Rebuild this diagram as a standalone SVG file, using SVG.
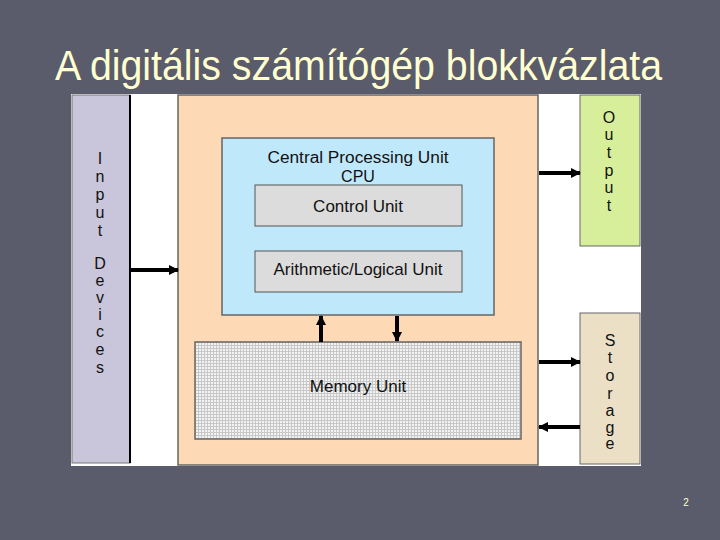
<svg xmlns="http://www.w3.org/2000/svg" width="720" height="540" viewBox="0 0 720 540">
<defs>
<pattern id="grid" width="3" height="3" patternUnits="userSpaceOnUse">
<rect width="3" height="3" fill="#f2f2f2"/>
<path d="M0 0.5H3M0.5 0V3" stroke="#c8c8c8" stroke-width="1"/>
</pattern>
<marker id="ah" markerWidth="10" markerHeight="10" refX="9" refY="5" orient="auto" markerUnits="userSpaceOnUse" viewBox="0 0 10 10">
<path d="M0 0L10 5L0 10Z" fill="#000"/>
</marker>
<style>
.t{font-family:"Liberation Sans",Arial,sans-serif;font-size:17px;fill:#111;text-anchor:middle}
.h{font-family:"Liberation Sans",Arial,sans-serif;font-size:16px;fill:#111;text-anchor:middle}
.v{font-family:"Liberation Sans",Arial,sans-serif;font-size:16px;fill:#111;text-anchor:middle}
.c{stroke:#000;stroke-width:4;fill:none;marker-end:url(#ah)}
.b{stroke:#666;stroke-width:1.5}
</style>
</defs>
<rect width="720" height="540" fill="#5a5b6b"/>
<text x="55" y="80" textLength="607" lengthAdjust="spacingAndGlyphs" style="font-family:'Liberation Sans',Arial,sans-serif;font-size:42px;fill:#ffffd0">A digitális számítógép blokkvázlata</text>
<rect x="71" y="94" width="570" height="372" fill="#fff"/>
<g id="input">
<rect x="72" y="95" width="58" height="368" fill="#c9c5da" stroke="#777" stroke-width="1"/>
<line x1="130" y1="95" x2="130" y2="463" stroke="#000" stroke-width="2"/>
<text class="v" x="100"><tspan x="100" y="164">I</tspan><tspan x="100" y="182">n</tspan><tspan x="100" y="200">p</tspan><tspan x="100" y="218">u</tspan><tspan x="100" y="236">t</tspan><tspan x="100" y="269">D</tspan><tspan x="100" y="286">e</tspan><tspan x="100" y="303">v</tspan><tspan x="100" y="320">i</tspan><tspan x="100" y="337">c</tspan><tspan x="100" y="355">e</tspan><tspan x="100" y="373">s</tspan></text>
</g>
<g id="computer">
<rect x="178" y="95" width="360" height="370" fill="#fdd9b5" class="b"/>
</g>
<g id="cpu">
<rect x="222" y="138" width="272" height="177" fill="#c0e8fb" class="b"/>
<text class="h" x="358" y="163" textLength="181" lengthAdjust="spacingAndGlyphs">Central Processing Unit</text>
<text class="h" x="358" y="182">CPU</text>
</g>
<g id="control">
<rect x="255" y="185" width="207" height="41" fill="#dcdcdc" stroke="#555" stroke-width="1"/>
<text class="t" x="358" y="212">Control Unit</text>
</g>
<g id="alu">
<rect x="255" y="251" width="207" height="41" fill="#dcdcdc" stroke="#555" stroke-width="1"/>
<text class="t" x="358" y="275">Arithmetic/Logical Unit</text>
</g>
<g id="memory">
<rect x="195" y="342" width="326" height="97" fill="url(#grid)" stroke="#666" stroke-width="1.5"/>
<text class="t" x="358" y="392">Memory Unit</text>
</g>
<g id="output">
<rect x="580" y="95" width="60" height="151" fill="#d7ee9a" stroke="#666" stroke-width="1"/>
<text class="v"><tspan x="609" y="123">O</tspan><tspan x="609" y="140">u</tspan><tspan x="609" y="158">t</tspan><tspan x="609" y="176">p</tspan><tspan x="609" y="193">u</tspan><tspan x="609" y="211">t</tspan></text>
</g>
<g id="storage">
<rect x="580" y="313" width="60" height="151" fill="#ebe0c6" stroke="#666" stroke-width="1"/>
<text class="v"><tspan x="610" y="346">S</tspan><tspan x="610" y="363">t</tspan><tspan x="610" y="381">o</tspan><tspan x="610" y="399">r</tspan><tspan x="610" y="416">a</tspan><tspan x="610" y="433">g</tspan><tspan x="610" y="449">e</tspan></text>
</g>
<g id="connectors">
<line class="c" x1="131" y1="270" x2="178" y2="270"/>
<line class="c" x1="539" y1="173" x2="580" y2="173"/>
<line class="c" x1="539" y1="362" x2="580" y2="362"/>
<line class="c" x1="580" y1="427" x2="539" y2="427"/>
<line class="c" x1="321" y1="342" x2="321" y2="316"/>
<line class="c" x1="397" y1="316" x2="397" y2="341"/>
</g>
<text x="686" y="506" style="font-family:'Liberation Sans',Arial,sans-serif;font-size:10px;fill:#ffffd0;text-anchor:middle">2</text>
</svg>
